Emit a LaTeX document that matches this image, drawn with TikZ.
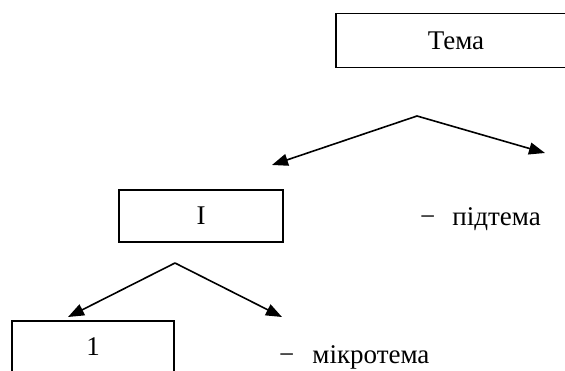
\documentclass[tikz,border=0pt]{standalone}
\usepackage{fontspec}
\setmainfont{Liberation Serif}
\usetikzlibrary{arrows.meta}
\begin{document}
\begin{tikzpicture}[x=1pt,y=-1pt,
  topicbox/.style={draw,line width=1.6pt,minimum height=54pt,inner sep=0pt,font=\fontsize{27}{32}\selectfont},
  connector/.style={line width=1.6pt,-{Triangle[length=16pt,width=12pt]}},
  labeltext/.style={inner sep=0pt,anchor=base west,font=\fontsize{27}{32}\selectfont}]
\useasboundingbox (0,0) rectangle (565,371);
\node[topicbox,minimum width=240pt] (tema) at (456,40.5) {Тема};
\node[topicbox,minimum width=164pt,minimum height=52pt] (sub) at (201,216) {I};
\node[topicbox,minimum width=162pt,minimum height=52pt] (micro) at (93,347) {1};
\coordinate (apexA) at (417,116);
\coordinate (tipAL) at (272,165);
\coordinate (tipAR) at (545,153);
\coordinate (apexB) at (175,263);
\coordinate (tipBL) at (68,317);
\coordinate (tipBR) at (282,317);
\draw[connector] (apexA) -- (tipAL);
\draw[connector] (apexA) -- (tipAR);
\draw[connector] (apexB) -- (tipBL);
\draw[connector] (apexB) -- (tipBR);
\node[labeltext] (subl) at (420,226) {−\hspace{17pt}підтема};
\node[labeltext] (microl) at (279,363) {−\hspace{18pt}мікротема};
\end{tikzpicture}
\end{document}
